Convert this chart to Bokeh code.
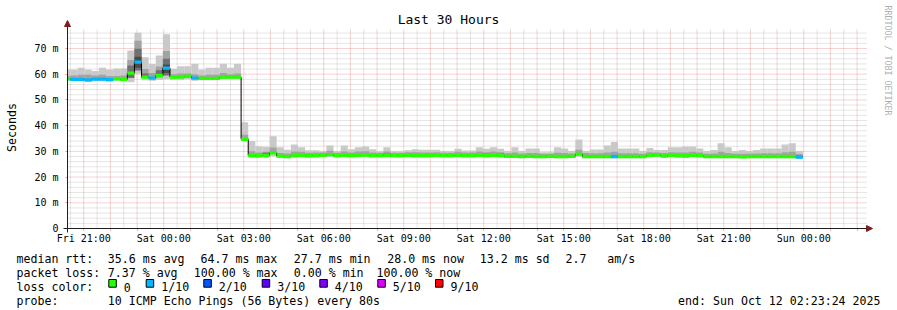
import numpy as np
from math import pi
from bokeh.plotting import figure
from bokeh.models import (Range1d, FixedTicker, Label, Arrow, NormalHead,
                          BoxAnnotation, ColumnDataSource)
from bokeh.embed import file_html
from bokeh.resources import INLINE

# ---------------- time frame (hours after Fri 21:00) ----------------
GRAPH_START = -0.61          # Fri 20:23:24
GRAPH_END = 29.39            # Sun 02:23:24
FIRST_BIN_START = -0.7667    # 16 minute consolidated bins
BIN_HOURS = 16 / 60

x_label_hours = [0, 3, 6, 9, 12, 15, 18, 21, 24, 27]
x_label_texts = ["Fri 21:00", "Sat 00:00", "Sat 03:00", "Sat 06:00", "Sat 09:00",
                 "Sat 12:00", "Sat 15:00", "Sat 18:00", "Sat 21:00", "Sun 00:00"]
y_tick_values = [0, 10, 20, 30, 40, 50, 60, 70]
y_tick_texts = ["0", "10 m", "20 m", "30 m", "40 m", "50 m", "60 m", "70 m"]
Y_MAX = 77.78

# ---------------- data (ms), one value per 16-minute bin ----------------
median_ms = [
    58.2, 58.0, 58.0, 57.8, 58.1, 58.1, 57.9, 58.2, 58.0, 60.4,
    64.7, 58.9, 58.5, 59.5, 62.4, 58.9, 58.9, 59.2, 58.5, 58.4,
    58.4, 58.4, 58.9, 58.9, 58.9,
    34.7,
    28.4, 28.3, 28.4, 29.4, 28.2, 28.0, 28.4, 28.5, 28.3, 28.4,
    28.5, 28.7, 28.4, 28.5, 28.4, 28.5, 28.6, 28.4, 28.4, 28.5,
    28.4, 28.4, 28.5, 28.4, 28.4, 28.4, 28.5, 28.4, 28.4, 28.5,
    28.4, 28.4, 28.5, 28.4, 28.5, 28.4, 28.1, 28.1, 28.0, 28.1,
    28.0, 28.0, 28.1, 28.0, 28.0, 28.1, 28.9, 28.0, 28.0, 28.0,
    28.0, 28.0, 28.0, 28.0, 28.0, 28.0, 28.5, 28.6, 28.2, 28.5,
    28.3, 28.2, 28.5, 28.4, 28.0, 28.0, 28.0, 28.0, 28.0, 27.9,
    28.0, 28.0, 28.0, 28.0, 28.0, 28.0, 28.0, 27.8,
]
loss_tenths = [
    0, 1, 1, 1, 1, 1, 1, 0, 0, 0,
    1, 0, 1, 0, 1, 0, 0, 0, 1, 0,
    0, 0, 0, 0, 0,
    0,
    0, 0, 0, 0, 0, 0, 0, 0, 0, 0,
    0, 0, 0, 0, 0, 0, 0, 0, 0, 0,
    0, 0, 0, 0, 0, 0, 0, 0, 0, 0,
    0, 0, 0, 0, 0, 0, 0, 0, 0, 0,
    0, 0, 0, 0, 0, 0, 0, 0, 0, 0,
    0, 1, 0, 0, 0, 0, 0, 0, 0, 0,
    0, 0, 0, 0, 0, 0, 0, 0, 0, 0,
    0, 0, 0, 0, 0, 0, 0, 1,
]
ping_max = [
    61.8, 61.8, 62.5, 61.8, 61.3, 62.5, 61.8, 62.2, 62.2, 69.2,
    76.1, 66.6, 64.0, 67.3, 75.5, 62.1, 63.1, 63.1, 64.1, 61.8,
    62.5, 62.5, 64.1, 62.5, 64.1,
    41.3,
    34.0, 32.0, 31.8, 35.9, 31.6, 30.6, 32.7, 31.6, 30.4, 30.4,
    30.0, 32.3, 30.1, 32.3, 30.8, 31.6, 31.9, 30.8, 30.0, 31.6,
    30.0, 30.0, 30.4, 30.8, 30.6, 30.6, 30.6, 30.1, 30.1, 31.0,
    30.3, 30.3, 31.6, 31.0, 31.6, 31.0, 30.1, 31.6, 30.1, 31.1,
    31.1, 29.7, 29.7, 31.6, 31.1, 30.1, 34.6, 30.1, 30.7, 30.7,
    32.3, 33.6, 31.1, 31.1, 31.1, 30.1, 31.3, 30.5, 30.5, 31.6,
    31.6, 31.9, 31.9, 31.1, 30.1, 30.5, 33.2, 31.6, 30.1, 30.5,
    30.1, 30.5, 31.1, 31.1, 31.1, 32.7, 33.2, 30.1,
]
ping_upper = [
    59.3, 59.5, 59.8, 59.8, 59.5, 59.8, 59.3, 59.3, 59.5, 65.5,
    73.0, 62.0, 60.5, 63.0, 69.0, 60.0, 60.3, 60.3, 60.0, 59.5,
    59.8, 59.8, 60.5, 60.0, 60.3,
    36.5,
    30.0, 29.6, 29.8, 31.5, 29.4, 29.2, 29.9, 29.8, 29.5, 29.6,
    29.6, 30.2, 29.5, 29.9, 29.6, 29.9, 30.0, 29.6, 29.5, 29.9,
    29.5, 29.5, 29.7, 29.7, 29.6, 29.6, 29.7, 29.5, 29.5, 29.8,
    29.6, 29.6, 29.9, 29.7, 29.9, 29.7, 29.3, 29.6, 29.2, 29.4,
    29.4, 29.1, 29.1, 29.5, 29.4, 29.2, 30.6, 29.4, 29.3, 29.3,
    29.6, 29.8, 29.3, 29.3, 29.3, 29.1, 29.7, 29.6, 29.4, 29.7,
    29.6, 29.6, 29.8, 29.6, 29.1, 29.2, 29.8, 29.4, 29.1, 29.1,
    29.1, 29.2, 29.3, 29.3, 29.3, 29.7, 29.8, 29.0,
]
ping_min = [
    57.5, 57.3, 57.3, 57.0, 57.3, 57.3, 57.2, 57.5, 57.3, 56.9,
    60.2, 57.7, 57.5, 57.8, 58.0, 57.8, 57.8, 58.0, 57.5, 57.7,
    57.7, 57.7, 58.0, 58.0, 58.0,
    34.0,
    27.6, 27.5, 27.6, 28.1, 27.4, 27.3, 27.6, 27.7, 27.5, 27.6,
    27.7, 27.8, 27.6, 27.7, 27.6, 27.7, 27.8, 27.6, 27.6, 27.7,
    27.6, 27.6, 27.7, 27.6, 27.6, 27.6, 27.7, 27.6, 27.6, 27.7,
    27.6, 27.6, 27.7, 27.6, 27.7, 27.6, 27.4, 27.4, 27.3, 27.4,
    27.3, 27.3, 27.4, 27.3, 27.3, 27.4, 27.9, 27.3, 27.3, 27.3,
    27.3, 27.3, 27.3, 27.3, 27.3, 27.3, 27.7, 27.8, 27.5, 27.7,
    27.6, 27.5, 27.7, 27.6, 27.3, 27.3, 27.3, 27.3, 27.3, 27.2,
    27.3, 27.3, 27.3, 27.3, 27.3, 27.3, 27.3, 27.1,
]
# darker smoke (inner pings) for bins with spread, by bin number
dark_bin = [9, 10, 11, 13, 14, 28, 45, 59, 61]
dark_lo = [58.5, 61.4, 58.5, 58.8, 59.5, 28.8, 28.5, 28.4, 28.4]
dark_hi = [63.4, 69.9, 60.3, 61.5, 66.0, 29.5, 29.2, 29.1, 29.1]
core_bin = [10, 14]
core_lo = [62.5, 60.5]
core_hi = [66.8, 63.8]

loss_palette = {0: "#26ff00", 1: "#00b8ff", 2: "#0059ff", 3: "#5e00ff",
                4: "#7e00ff", 5: "#dd00ff", 9: "#ff0000"}
legend_levels = ["0", "1/10", "2/10", "3/10", "4/10", "5/10", "9/10"]
legend_colors = ["#26ff00", "#00b8ff", "#0059ff", "#5e00ff", "#7e00ff", "#dd00ff", "#ff0000"]

# ---------------- figure: frame spans the whole canvas ----------------
FONT = "DejaVu Sans Mono"
W, H = 897, 310
FL, FR, FT, FB = 67, 867, 28, 228   # graph area in canvas pixels


def xd(px):
    return GRAPH_START + (px - FL) * (GRAPH_END - GRAPH_START) / (FR - FL)


def yd(py):
    return (FB - py) * Y_MAX / (FB - FT)


p = figure(width=W, height=H, x_range=Range1d(xd(0), xd(W)),
           y_range=Range1d(yd(H), yd(0)), output_backend="svg",
           toolbar_location=None, min_border=0)
p.outline_line_color = None
p.background_fill_color = "#ffffff"
p.border_fill_color = "#ffffff"
p.xgrid.visible = False
p.ygrid.visible = False

# ---------------- grid (drawn under the data) ----------------
hours = list(range(0, 30))
half_hours = [h + 0.5 for h in range(-1, 29)]
minor_ms = [v for v in range(2, 78, 2) if v % 10]
major_ms = y_tick_values[1:]

p.segment(x0=half_hours, x1=half_hours, y0=0, y1=Y_MAX, line_color="#8f8f8f",
          line_alpha=0.45, line_dash="1 1", line_width=1)
p.segment(x0=GRAPH_START, x1=GRAPH_END, y0=minor_ms, y1=minor_ms, line_color="#8f8f8f",
          line_alpha=0.45, line_dash="1 1", line_width=1)
p.segment(x0=hours, x1=hours, y0=0, y1=Y_MAX, line_color="#de4f4f",
          line_alpha=0.5, line_dash="1 1", line_width=1)
p.segment(x0=GRAPH_START, x1=GRAPH_END, y0=major_ms, y1=major_ms, line_color="#de4f4f",
          line_alpha=0.5, line_dash="1 1", line_width=1)

# ---------------- smoke, median and loss colour ----------------
n = len(median_ms)
left = np.maximum(FIRST_BIN_START + np.arange(n) * BIN_HOURS, GRAPH_START)
right = FIRST_BIN_START + (np.arange(n) + 1) * BIN_HOURS
med = np.array(median_ms)

src = ColumnDataSource(dict(left=left, right=right, med=med,
                            pmin=ping_min, pmax=ping_max, pup=ping_upper,
                            blo=med - 0.65, bhi=med + 0.65,
                            color=[loss_palette[v] for v in loss_tenths]))

p.quad(left="left", right="right", bottom="pmin", top="pmax", source=src,
       fill_color="#c9c9c9", line_color=None)
p.quad(left="left", right="right", bottom="med", top="pup", source=src,
       fill_color="#a3a3a3", line_color=None)
db = np.array(dark_bin)
p.quad(left=left[db], right=right[db], bottom=dark_lo, top=dark_hi,
       fill_color="#707070", line_color=None)
cb = np.array(core_bin)
p.quad(left=left[cb], right=right[cb], bottom=core_lo, top=core_hi,
       fill_color="#4a4a4a", line_color=None)

p.step(np.append(left, right[-1]), np.append(med, med[-1]), mode="after",
       line_color="#000000", line_width=1)
p.quad(left="left", right="right", bottom="blo", top="bhi", source=src,
       fill_color="color", line_color=None)

# ---------------- axes (fixed inside the canvas-wide frame) ----------------
xt = FixedTicker(ticks=hours, minor_ticks=half_hours)
p.xaxis.ticker = xt
overrides = {h: "" for h in hours}
for h, t in zip(x_label_hours, x_label_texts):
    overrides[h] = t
p.xaxis.major_label_overrides = overrides
p.xaxis.fixed_location = 0
p.xaxis.bounds = (GRAPH_START, GRAPH_END)

yt = FixedTicker(ticks=y_tick_values, minor_ticks=minor_ms)
p.yaxis.ticker = yt
p.yaxis.major_label_overrides = dict(zip(y_tick_values, y_tick_texts))
p.yaxis.fixed_location = GRAPH_START
p.yaxis.bounds = (0, Y_MAX)

for ax in (p.xaxis[0], p.yaxis[0]):
    ax.axis_line_color = "#1f1f1f"
    ax.major_tick_line_color = "#de4f4f"
    ax.major_tick_line_alpha = 0.6
    ax.major_tick_in = 0
    ax.major_tick_out = 2
    ax.minor_tick_line_color = None
    ax.major_label_text_font = FONT
    ax.major_label_text_font_size = "10px"
    ax.major_label_text_color = "#000000"
p.xaxis.major_label_standoff = 0
p.yaxis.major_label_standoff = 5

# axis extensions with arrow heads
p.add_layout(Arrow(x_start=xd(63), y_start=0, x_end=xd(872), y_end=0,
                   line_color="#1f1f1f", line_width=1,
                   end=NormalHead(size=6, fill_color="#801f1f", line_color="#801f1f")))
p.add_layout(Arrow(x_start=xd(FL), y_start=yd(232), x_end=xd(FL), y_end=yd(20),
                   line_color="#1f1f1f", line_width=1,
                   end=NormalHead(size=6, fill_color="#801f1f", line_color="#801f1f")))


def text(txt, px, py, size="11.6px", align="left", baseline="alphabetic",
         angle=0.0, color="#000000"):
    p.add_layout(Label(x=px, y=py, x_units="canvas", y_units="canvas", text=txt,
                       text_font=FONT, text_font_size=size, text_align=align,
                       text_baseline=baseline, angle=angle, text_color=color))


text("Last 30 Hours", 448, 19, size="13px", align="center", baseline="middle")
text("Seconds", 11, 127, size="11.6px", align="center", baseline="middle", angle=pi / 2)
text("RRDTOOL / TOBI OETIKER", 887, 5, size="8.3px", align="left", baseline="middle",
     angle=-pi / 2, color="#b0b0b0")

# legend rows
r1, r2, r3, r4 = 258, 272, 286.5, 300
text("median rtt:", 16, r1)
for s, x in zip(["35.6 ms avg", "64.7 ms max", "27.7 ms min", "28.0 ms now",
                 "13.2 ms sd", "2.7", "am/s"],
                [107.3, 200, 293.3, 386.7, 479.3, 565, 606.7]):
    text(s, x, r1)
text("packet loss:", 16, r2)
for s, x in zip(["7.37 % avg", "100.00 % max", "0.00 % min", "100.00 % now"],
                [107.3, 193.3, 293.3, 376]):
    text(s, x, r2)
text("loss color:", 16, r3)
box_x = [108.3, 145.7, 203.3, 261.7, 319.3, 377.3, 435]
for lab, col, bx in zip(legend_levels, legend_colors, box_x):
    p.add_layout(BoxAnnotation(left=bx, right=bx + 7.5, top=279, bottom=286.7,
                               left_units="canvas", right_units="canvas",
                               top_units="canvas", bottom_units="canvas",
                               fill_color=col, fill_alpha=1.0,
                               line_color="#000000", line_width=1, line_alpha=1.0))
    text(lab, bx + 15, r3)
text("probe:", 16, r4)
text("10 ICMP Echo Pings (56 Bytes) every 80s", 107.3, r4)
text("end: Sun Oct 12 02:23:24 2025", 880, r4, align="right")

open("out.html", "w").write(file_html(p, INLINE))
